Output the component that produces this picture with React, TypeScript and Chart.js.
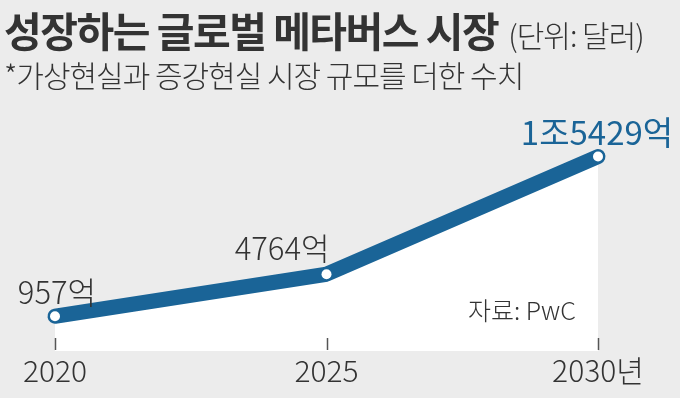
import React, { useEffect, useRef } from "react";
import { Chart, registerables } from "chart.js";

Chart.register(...registerables);

const years = ["2020", "2025", "2030년"];
const marketSize = [957, 4764, 15429]; // 억 달러
const valueLabels = ["957억", "4764억", "1조5429억"];

const BLUE = "#1a6497";
const TEXT = "#333333";
const BG = "#ececec";
const FONT = "'Noto Sans CJK KR', 'Noto Sans', sans-serif";

// label placement relative to its point (style, not data)
const labelStyle = [
  { align: "center", dx: 2, dy: -12, color: TEXT, weight: "300", size: 31 },
  { align: "right", dx: 3, dy: -14, color: TEXT, weight: "300", size: 31 },
  { align: "center", dx: -1, dy: -12, color: BLUE, weight: "400", size: 33 },
];

const overlayPlugin = {
  id: "overlay",
  afterDatasetsDraw(chart: any) {
    const ctx = chart.ctx;
    const xs = chart.scales.x;
    const area = chart.chartArea;
    ctx.save();
    ctx.strokeStyle = "#555";
    ctx.lineWidth = 1.5;
    xs.ticks.forEach((_t: any, i: number) => {
      const x = Math.round(xs.getPixelForTick(i)) + 0.5;
      ctx.beginPath();
      ctx.moveTo(x, area.bottom - 13);
      ctx.lineTo(x, area.bottom - 1);
      ctx.stroke();
    });
    const meta = chart.getDatasetMeta(0);
    meta.data.forEach((pt: any, i: number) => {
      const s = labelStyle[i];
      ctx.font = `${s.weight} ${s.size}px ${FONT}`;
      ctx.fillStyle = s.color;
      ctx.textAlign = s.align;
      ctx.textBaseline = "alphabetic";
      ctx.fillText(valueLabels[i], pt.x + s.dx, pt.y + s.dy);
    });
    ctx.restore();
  },
};

export default function App() {
  const ref = useRef<HTMLCanvasElement>(null);
  useEffect(() => {
    document.body.style.margin = "0";
    const chart = new Chart(ref.current!, {
      type: "line",
      data: {
        labels: years,
        datasets: [
          {
            data: marketSize,
            borderColor: BLUE,
            borderWidth: 15,
            borderCapStyle: "round",
            borderJoinStyle: "round",
            fill: "start",
            backgroundColor: "#ffffff",
            pointRadius: 5,
            pointBackgroundColor: "#ffffff",
            pointBorderWidth: 0,
            pointHoverRadius: 5,
            tension: 0,
            clip: false,
          } as any,
        ],
      },
      options: {
        responsive: false,
        devicePixelRatio: 1,
        animation: false,
        layout: { padding: { top: 100, left: 55, right: 82, bottom: 7 } },
        scales: {
          x: {
            offset: false,
            grid: { display: false, drawTicks: false },
            border: { display: false },
            ticks: {
              color: TEXT,
              font: { family: FONT, size: 30, weight: "300" },
              padding: 2,
              maxRotation: 0,
              autoSkip: false,
            },
          },
          y: { display: false, min: -2190, max: 20550 },
        },
        plugins: { legend: { display: false }, tooltip: { enabled: false } },
      },
      plugins: [overlayPlugin],
    });
    return () => chart.destroy();
  }, []);

  return (
    <div
      style={{
        position: "fixed",
        left: 0,
        top: 0,
        width: 680,
        height: 398,
        background: BG,
        fontFamily: FONT,
        color: TEXT,
        overflow: "hidden",
      }}
    >
      <canvas ref={ref} width={680} height={398} style={{ position: "absolute", left: 0, top: 0 }} />
      <div
        style={{
          position: "absolute",
          left: 4,
          top: 6,
          fontSize: 41,
          fontWeight: 700,
          lineHeight: "46px",
          letterSpacing: "-1.5px",
          whiteSpace: "nowrap",
        }}
      >
        성장하는 글로벌 메타버스 시장
        <span style={{ fontSize: 30, fontWeight: 300, letterSpacing: "-1px", marginLeft: 10 }}>(단위: 달러)</span>
      </div>
      <div
        style={{
          position: "absolute",
          left: 4,
          top: 56,
          fontSize: 30,
          fontWeight: 300,
          lineHeight: "36px",
          letterSpacing: "-1px",
          whiteSpace: "nowrap",
        }}
      >
        *가상현실과 증강현실 시장 규모를 더한 수치
      </div>
      <div
        style={{
          position: "absolute",
          left: 468,
          top: 294,
          fontSize: 25,
          fontWeight: 300,
          lineHeight: "30px",
          whiteSpace: "nowrap",
        }}
      >
        자료: PwC
      </div>
    </div>
  );
}
